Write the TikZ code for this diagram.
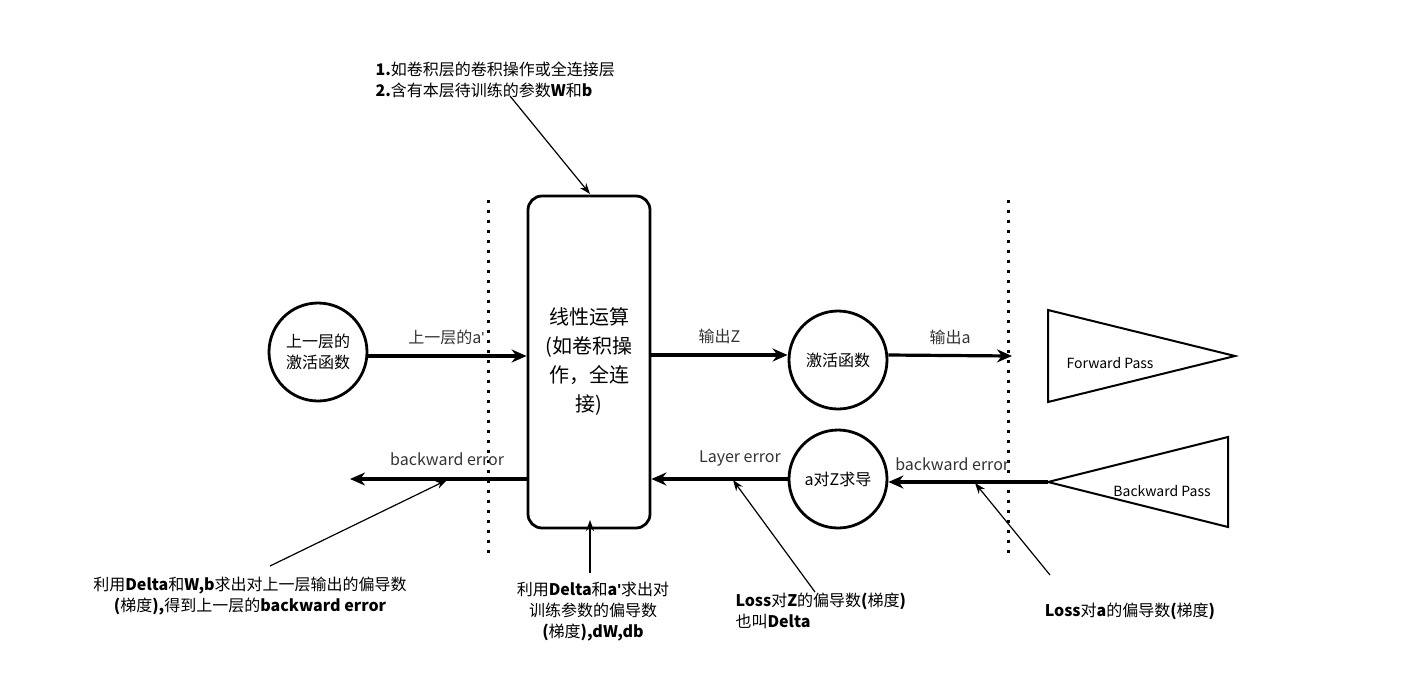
\documentclass[tikz,border=0pt]{standalone}
\usepackage{fontspec}
\setmainfont{Noto Sans CJK SC}
\newfontfamily\lat{Liberation Sans}
\newcommand{\apos}{{\lat\textquotesingle}}
\usetikzlibrary{arrows.meta}
\begin{document}
\begin{tikzpicture}[x=1pt,y=-1pt,
  every node/.style={font=\fontsize{16}{21}\selectfont},
  circ/.style={draw,line width=2.8pt,circle,minimum size=98pt,inner sep=0pt,align=center},
  main/.style={line width=3.2pt,-{Stealth[length=15pt,width=13pt]}},
  note/.style={line width=1.2pt,-{Stealth[length=11pt,width=8pt]}},
  dots/.style={line width=3pt,dash pattern=on 3pt off 7pt},
  lbl/.style={text=black!80}]
\useasboundingbox (0,0) rectangle (1405,697);
\node[circ] (c1) at (318,352) {上一层的\\激活函数};
\node[draw,line width=2.8pt,rounded corners=14pt,minimum width=122pt,minimum height=332pt,align=center,font=\fontsize{20}{29}\selectfont] (r) at (589,362) {线性运算\\(如卷积操\\作，全连\\接)};
\node[circ] (c2) at (838,360) {激活函数};
\node[circ] (c3) at (838,479) {a对Z求导};
\draw[line width=2pt] (1048,310) -- (1235,356) -- (1048,402) -- cycle;
\node[font=\fontsize{14}{16}\selectfont] (fp) at (1110,363) {Forward Pass};
\draw[line width=2pt] (1228,437) -- (1228,527) -- (1048,482) -- cycle;
\node[font=\fontsize{14}{16}\selectfont] (bp) at (1162,491) {Backward Pass};
\coordinate (tf) at (1048,482);
\draw[dots] (488,200) -- (488,556);
\draw[dots] (1008,200) -- (1008,560);
\coordinate (o1) at (1012,356);
\coordinate (o2) at (350,479);
\draw[main] (366,356) -- (r.west|-0,356) node[midway,above=6pt,lbl] (l1) {上一层的a\apos};
\draw[main] (r.east|-0,355) -- (c2.west|-0,355) node[midway,above=6pt,lbl] (l2) {输出Z};
\draw[main] (c2.east|-0,355) -- (o1) node[midway,above=6pt,lbl] (l3) {输出a};
\draw[main] (tf) -- (c3.east|-0,482) node[pos=0.6,above=6pt,lbl] (l4) {backward error};
\draw[main] (c3.west|-0,479) -- (r.east|-0,479) node[pos=0.35,above=8pt,lbl] (l5) {Layer error};
\draw[main] (r.west|-0,479) -- (o2) node[pos=0.45,above=8pt,lbl] (l6) {backward error};
\node[align=left,anchor=north west] (t1) at (372,58) {\textbf{1.}如卷积层的卷积操作或全连接层\\\textbf{2.}含有本层待训练的参数\textbf{W}和\textbf{b}};
\node[align=center] (t2) at (250,596) {利用\textbf{Delta}和\textbf{W,b}求出对上一层输出的偏导数\\\textbf{(}梯度\textbf{),}得到上一层的\textbf{backward error}};
\node[align=center] (t3) at (593,612) {利用\textbf{Delta}和\textbf{a\apos}求出对\\训练参数的偏导数\\\textbf{(}梯度\textbf{),dW,db}};
\node[align=left,anchor=west] (t4) at (732,611) {\textbf{Loss}对\textbf{Z}的偏导数\textbf{(}梯度\textbf{)}\\也叫\textbf{Delta}};
\node (t5) at (1130,611) {\textbf{Loss}对\textbf{a}的偏导数\textbf{(}梯度\textbf{)}};
\coordinate (a1) at (510,96);
\coordinate (h1) at (590,194);
\draw[note] (a1) -- (h1);
\coordinate (a2) at (270,566);
\coordinate (h2) at (447,480);
\draw[note] (a2) -- (h2);
\coordinate (a3) at (590,573);
\coordinate (h3) at (590,520);
\draw[note] (a3) -- (h3);
\coordinate (a4) at (815,592);
\coordinate (h4) at (733,480);
\draw[note] (a4) -- (h4);
\coordinate (a5) at (1050,575);
\coordinate (h5) at (975,483);
\draw[note] (a5) -- (h5);
\end{tikzpicture}
\end{document}
